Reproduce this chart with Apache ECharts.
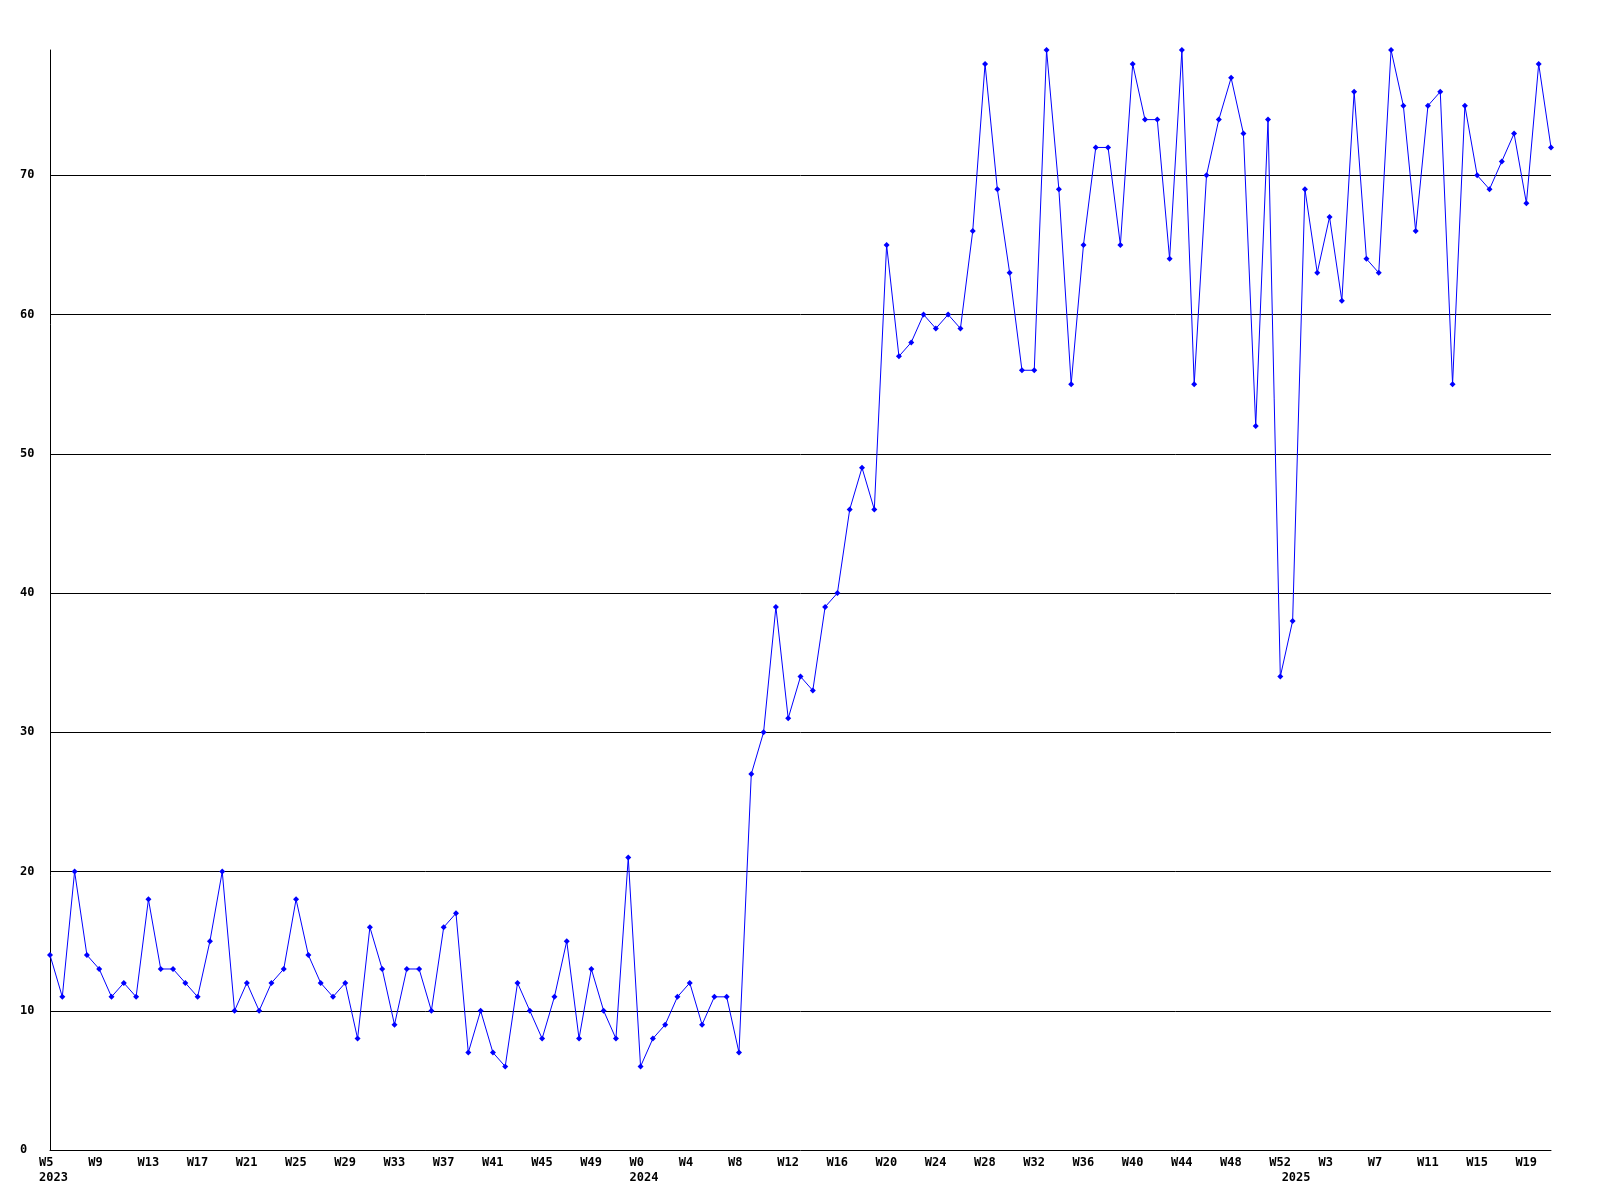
<!DOCTYPE html>
<html>
<head>
<meta charset="utf-8">
<script src="https://cdn.jsdelivr.net/npm/echarts@6/dist/echarts.min.js"></script>
<style>html,body{margin:0;padding:0;background:#fff;}#c{width:1600px;height:1200px;}</style>
</head>
<body>
<div id="c"></div>
<script>
// Week labels (year, week number) for every weekly point
const weekYears = [];
const weekNums = [];
for (let w = 5; w <= 52; w++) { weekYears.push(2023); weekNums.push(w); }
for (let w = 0; w <= 52; w++) { weekYears.push(2024); weekNums.push(w); }
for (let w = 0; w <= 21; w++) { weekYears.push(2025); weekNums.push(w); }
const categories = weekNums.map((w, i) => weekYears[i] + '-W' + w);

const values = [
  14, 11, 20, 14, 13, 11, 12, 11, 18, 13, 13, 12, 11, 15, 20, 10,
  12, 10, 12, 13, 18, 14, 12, 11, 12, 8, 16, 13, 9, 13, 13, 10,
  16, 17, 7, 10, 7, 6, 12, 10, 8, 11, 15, 8, 13, 10, 8, 21,
  6, 8, 9, 11, 12, 9, 11, 11, 7, 27, 30, 39, 31, 34, 33, 39,
  40, 46, 49, 46, 65, 57, 58, 60, 59, 60, 59, 66, 78, 69, 63, 56,
  56, 79, 69, 55, 65, 72, 72, 65, 78, 74, 74, 64, 79, 55, 70, 74,
  77, 73, 52, 74, 34, 38, 69, 63, 67, 61, 76, 64, 63, 79, 75, 66,
  75, 76, 55, 75, 70, 69, 71, 73, 68, 78, 72
];

const yMin = 0, yMax = 79, yStep = 10;

const font = 'DejaVu Sans Mono';
const chart = echarts.init(document.getElementById('c'), null, {renderer: 'canvas'});
chart.setOption({
  animation: false,
  backgroundColor: '#ffffff',
  grid: {left: 50, right: 49, top: 50, bottom: 50, containLabel: false},
  xAxis: [
    {
      type: 'category',
      data: categories,
      boundaryGap: false,
      axisLine: {show: true, lineStyle: {color: '#000', width: 1}},
      axisTick: {show: false},
      splitLine: {show: false},
      axisLabel: {
        interval: 3,
        margin: 7,
        color: '#000',
        fontFamily: font,
        fontWeight: 'bold',
        fontSize: 12,
        align: 'center',
        formatter: (v) => '{w|W' + v.split('-W')[1] + '}',
        rich: {w: {width: 22, align: 'left', fontFamily: font, fontWeight: 'bold', fontSize: 12, color: '#000'}}
      }
    },
    {
      type: 'category',
      data: categories,
      position: 'bottom',
      boundaryGap: false,
      axisLine: {show: false},
      axisTick: {show: false},
      splitLine: {show: false},
      axisLabel: {
        interval: (idx) => idx === 0 || weekYears[idx] !== weekYears[idx - 1],
        margin: 22,
        color: '#000',
        fontFamily: font,
        fontWeight: 'bold',
        fontSize: 12,
        align: 'center',
        formatter: (v) => '{y|' + v.split('-W')[0] + '}',
        rich: {y: {width: 22, align: 'left', fontFamily: font, fontWeight: 'bold', fontSize: 12, color: '#000'}}
      }
    }
  ],
  yAxis: {
    type: 'value',
    min: yMin,
    max: yMax,
    interval: yStep,
    axisLine: {show: true, lineStyle: {color: '#000', width: 1}},
    axisTick: {show: false},
    splitLine: {show: true, showMinLine: false, showMaxLine: false, lineStyle: {color: '#000', width: 1}},
    axisLabel: {
      showMaxLabel: false,
      align: 'left',
      margin: 30,
      color: '#000',
      fontFamily: font,
      fontWeight: 'bold',
      fontSize: 12
    }
  },
  series: [{
    type: 'line',
    data: values,
    xAxisIndex: 0,
    symbol: 'diamond',
    symbolSize: 6,
    showSymbol: true,
    showAllSymbol: true,
    lineStyle: {color: '#0000ff', width: 1},
    itemStyle: {color: '#0000ff'},
    emphasis: {disabled: true}
  }]
});
</script>
</body>
</html>
